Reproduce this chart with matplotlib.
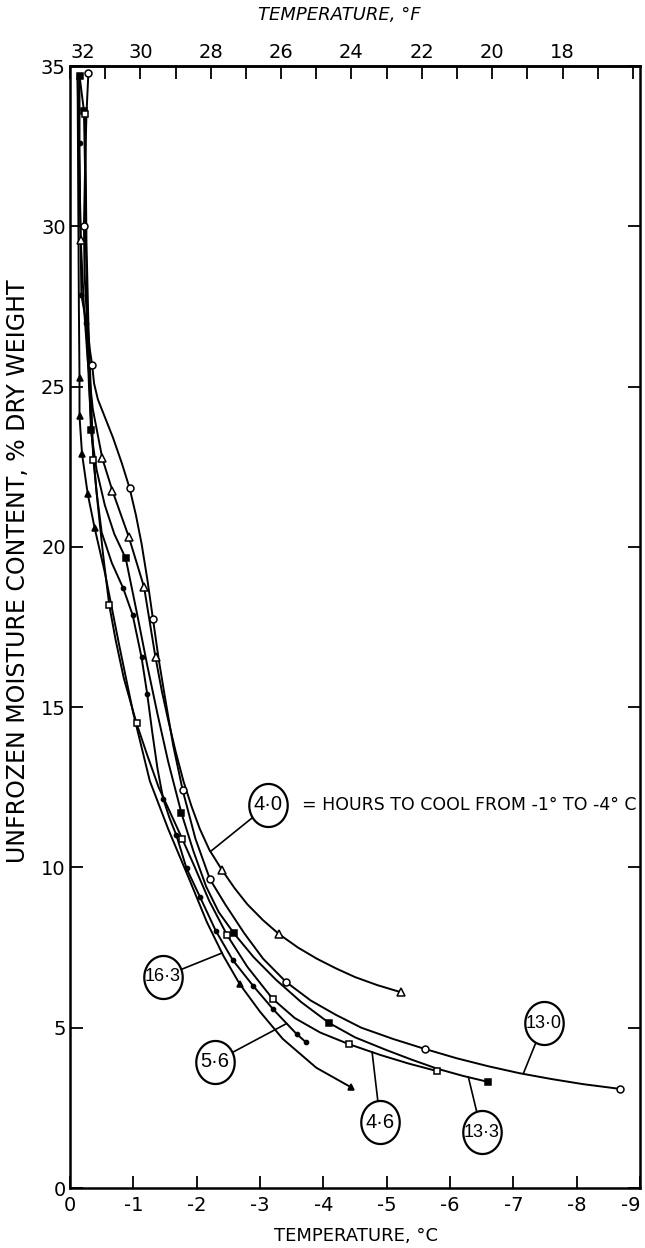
import matplotlib
matplotlib.use("Agg")
import matplotlib.pyplot as plt
from matplotlib.path import Path
import numpy as np

plt.rcParams['font.family'] = ['DejaVu Sans']

# ---------------- data ----------------
# temperature in deg C, unfrozen moisture content in % dry weight
# each series: curve points (c*) and plotted measurement points (m*)
cx_40 = [-0.12, -0.14, -0.17, -0.22, -0.28, -0.36, -0.51, -0.67, -0.93, -1.17, -1.35, -1.45, -1.55, -1.67, -1.79, -1.92, -2.05, -2.20, -2.40, -2.60, -2.80, -3.05, -3.30, -3.60, -3.90, -4.20, -4.50, -4.85, -5.22]
cy_40 = [34.7, 32.5, 29.57, 27.5, 25.8, 24.3, 22.76, 21.75, 20.3, 18.74, 16.55, 15.5, 14.6, 13.6, 12.7, 11.9, 11.2, 10.55, 9.92, 9.35, 8.85, 8.35, 7.92, 7.5, 7.15, 6.85, 6.58, 6.33, 6.11]
mx_40 = [-0.17, -0.51, -0.67, -0.93, -1.17, -1.35, -2.40, -3.30, -5.22]
my_40 = [29.57, 22.76, 21.75, 20.3, 18.74, 16.55, 9.92, 7.92, 6.11]

cx_130 = [-0.29, -0.26, -0.24, -0.22, -0.23, -0.27, -0.31, -0.35, -0.38, -0.44, -0.54, -0.68, -0.82, -0.94, -1.04, -1.13, -1.22, -1.31, -1.40, -1.50, -1.63, -1.78, -1.98, -2.21, -2.45, -2.75, -3.05, -3.41, -3.80, -4.20, -4.60, -5.10, -5.60, -6.10, -6.60, -7.10, -7.60, -8.10, -8.69]
cy_130 = [34.77, 33.5, 32.0, 30.0, 28.5, 27.0, 26.2, 25.67, 25.1, 24.6, 24.1, 23.4, 22.6, 21.84, 21.0, 20.1, 19.0, 17.75, 16.5, 15.3, 13.8, 12.4, 10.9, 9.63, 8.85, 7.95, 7.15, 6.43, 5.85, 5.4, 5.0, 4.65, 4.34, 4.05, 3.8, 3.58, 3.4, 3.24, 3.09]
mx_130 = [-0.29, -0.22, -0.35, -0.94, -1.31, -1.78, -2.21, -3.41, -5.60, -8.69]
my_130 = [34.77, 30.0, 25.67, 21.84, 17.75, 12.4, 9.63, 6.43, 4.34, 3.09]

cx_133 = [-0.15, -0.22, -0.24, -0.25, -0.27, -0.30, -0.33, -0.42, -0.55, -0.70, -0.88, -1.05, -1.22, -1.38, -1.55, -1.76, -1.95, -2.15, -2.35, -2.59, -2.90, -3.25, -3.65, -4.09, -4.50, -5.00, -5.40, -5.80, -6.20, -6.60]
cy_133 = [34.7, 33.6, 31.5, 29.5, 27.5, 25.5, 23.64, 22.4, 21.3, 20.4, 19.64, 18.0, 16.3, 14.8, 13.3, 11.69, 10.5, 9.4, 8.6, 7.94, 7.2, 6.5, 5.8, 5.15, 4.7, 4.3, 4.0, 3.72, 3.5, 3.31]
mx_133 = [-0.15, -0.22, -0.33, -0.88, -1.76, -2.59, -4.09, -6.60]
my_133 = [34.7, 33.6, 23.64, 19.64, 11.69, 7.94, 5.15, 3.31]

cx_46 = [-0.24, -0.25, -0.26, -0.29, -0.33, -0.37, -0.44, -0.52, -0.62, -0.72, -0.85, -1.05, -1.22, -1.40, -1.77, -1.95, -2.20, -2.48, -2.80, -3.20, -3.55, -3.95, -4.40, -4.90, -5.35, -5.79]
cy_46 = [33.5, 31.5, 29.5, 27.0, 24.8, 22.7, 21.3, 19.8, 18.18, 17.1, 15.9, 14.5, 13.5, 12.5, 10.9, 10.1, 8.95, 7.89, 6.9, 5.9, 5.3, 4.85, 4.49, 4.15, 3.88, 3.65]
mx_46 = [-0.24, -0.37, -0.62, -1.05, -1.77, -2.48, -3.20, -4.40, -5.79]
my_46 = [33.5, 22.7, 18.18, 14.5, 10.9, 7.89, 5.9, 4.49, 3.65]

cx_56 = [-0.15, -0.15, -0.16, -0.18, -0.26, -0.30, -0.35, -0.42, -0.50, -0.66, -0.84, -0.99, -1.13, -1.22, -1.30, -1.38, -1.47, -1.57, -1.68, -1.84, -2.05, -2.30, -2.57, -2.89, -3.21, -3.58, -3.73]
cy_56 = [34.6, 32.6, 30.5, 27.85, 26.97, 25.0, 23.3, 21.7, 20.45, 19.5, 18.71, 17.87, 16.55, 15.4, 14.2, 13.1, 12.15, 11.55, 11.0, 9.97, 9.09, 8.03, 7.11, 6.31, 5.57, 4.8, 4.54]
mx_56 = [-0.15, -0.18, -0.26, -0.84, -0.99, -1.13, -1.22, -1.47, -1.68, -1.84, -2.05, -2.30, -2.57, -2.89, -3.21, -3.58, -3.73]
my_56 = [32.6, 27.85, 26.97, 18.71, 17.87, 16.55, 15.4, 12.15, 11.0, 9.97, 9.09, 8.03, 7.11, 6.31, 5.57, 4.8, 4.54]

cx_163 = [-0.12, -0.13, -0.14, -0.15, -0.15, -0.19, -0.28, -0.39, -0.55, -0.78, -1.00, -1.26, -1.55, -1.89, -2.16, -2.42, -2.68, -3.00, -3.36, -3.89, -4.43]
cy_163 = [34.6, 31.0, 27.5, 25.27, 24.07, 22.9, 21.65, 20.58, 19.2, 16.9, 14.8, 12.7, 11.2, 9.6, 8.3, 7.25, 6.36, 5.5, 4.65, 3.75, 3.15]
mx_163 = [-0.15, -0.15, -0.19, -0.28, -0.39, -2.68, -4.43]
my_163 = [25.27, 24.07, 22.9, 21.65, 20.58, 6.36, 3.15]

# circled labels: text, circle centre, point on curve
lab_text = ["4·0", "16·3", "5·6", "4·6", "13·3", "13·0"]
lab_cx = [-3.13, -1.47, -2.29, -4.90, -6.50, -7.48]
lab_cy = [11.95, 6.59, 3.94, 2.05, 1.74, 5.14]
lab_px = [-2.22, -2.40, -3.42, -4.77, -6.29, -7.16]
lab_py = [10.50, 7.33, 5.13, 4.24, 3.46, 3.58]

legend_text = "= HOURS TO COOL FROM -1° TO -4° C"

x_ticks = [0, -1, -2, -3, -4, -5, -6, -7, -8, -9]
x_ticklabels = ["0", "-1", "-2", "-3", "-4", "-5", "-6", "-7", "-8", "-9"]
y_ticks = [0, 5, 10, 15, 20, 25, 30, 35]
f_major = [32, 30, 28, 26, 24, 22, 20, 18]
f_minor = [31, 29, 27, 25, 23, 21, 19, 17, 16]

# ---------------- figure ----------------
fig = plt.figure(figsize=(6.45, 12.48), dpi=100)
ax = fig.add_axes([70/645, 1 - 1188/1248, 570/645, 1122/1248])
ax.set_xlim(0, -9)
ax.set_ylim(0, 35)

series = [
    (cx_40, cy_40, mx_40, my_40, dict(marker='^', mfc='white', ms=6)),
    (cx_130, cy_130, mx_130, my_130, dict(marker='o', mfc='white', ms=5)),
    (cx_133, cy_133, mx_133, my_133, dict(marker='s', mfc='black', ms=5)),
    (cx_46, cy_46, mx_46, my_46, dict(marker='s', mfc='white', ms=5)),
    (cx_56, cy_56, mx_56, my_56, dict(marker='o', mfc='black', ms=3)),
    (cx_163, cy_163, mx_163, my_163, dict(marker='^', mfc='black', ms=4.5)),
]
for cxs, cys, mxs, mys, st in series:
    ax.plot(cxs, cys, color='black', lw=1.4, zorder=2, solid_joinstyle='round')
    ax.plot(mxs, mys, ls='none', mec='black', mew=1.1, zorder=2.5, **st)

# elliptical circle marker for the labels
t = np.linspace(0, 2 * np.pi, 60)
ell = Path(np.column_stack([np.cos(t), 1.12 * np.sin(t)]), closed=True)

for txt, cx, cy, px, py in zip(lab_text, lab_cx, lab_cy, lab_px, lab_py):
    ax.plot([cx, px], [cy, py], color='black', lw=1.2, zorder=3)
    ax.plot([cx], [cy], marker=ell, ms=31, mfc='white', mec='black',
            mew=1.6, zorder=4, clip_on=False)
    fs = 14.5 if len(txt) <= 3 else 13
    ax.text(cx, cy, txt, ha='center', va='center', fontsize=fs,
            family=['Liberation Sans', 'DejaVu Sans'], zorder=5)

ax.text(-3.66, 11.95, legend_text, ha='left', va='center', fontsize=12.5, zorder=5)

# bottom / left / right axes
ax.set_xticks(x_ticks)
ax.set_xticklabels(x_ticklabels)
ax.set_yticks(y_ticks)
ax.tick_params(axis='both', which='both', direction='in', length=9, width=1.3,
               labelsize=14, top=False, right=True)
ax.tick_params(axis='x', pad=6)
ax.tick_params(axis='y', pad=3)
ax.get_xticklabels()[-1].set_horizontalalignment('right')
for sp in ax.spines.values():
    sp.set_linewidth(1.8)

# top axis in deg F
sec = ax.secondary_xaxis('top', functions=(lambda c: c * 9 / 5 + 32,
                                           lambda f: (f - 32) * 5 / 9))
sec.set_xticks(f_major)
sec.set_xticks(f_minor, minor=True)
sec.set_xticklabels([str(v) for v in f_major])
sec.tick_params(axis='x', which='both', direction='in', length=9, width=1.3,
                labelsize=14, pad=3)
sec.spines['top'].set_linewidth(1.8)
sec.get_xticklabels()[0].set_horizontalalignment('left')

fig.text(339/645, 1 - 15/1248, "TEMPERATURE, °F", ha='center', va='center',
         fontsize=13, style='italic')
fig.text(356/645, 1 - 1236/1248, "TEMPERATURE, °C", ha='center', va='center',
         fontsize=13)
fig.text(18/645, 1 - 571/1248, "UNFROZEN MOISTURE CONTENT, % DRY WEIGHT",
         rotation=90, ha='center', va='center', fontsize=17)

fig.savefig("out.png", dpi=100)
